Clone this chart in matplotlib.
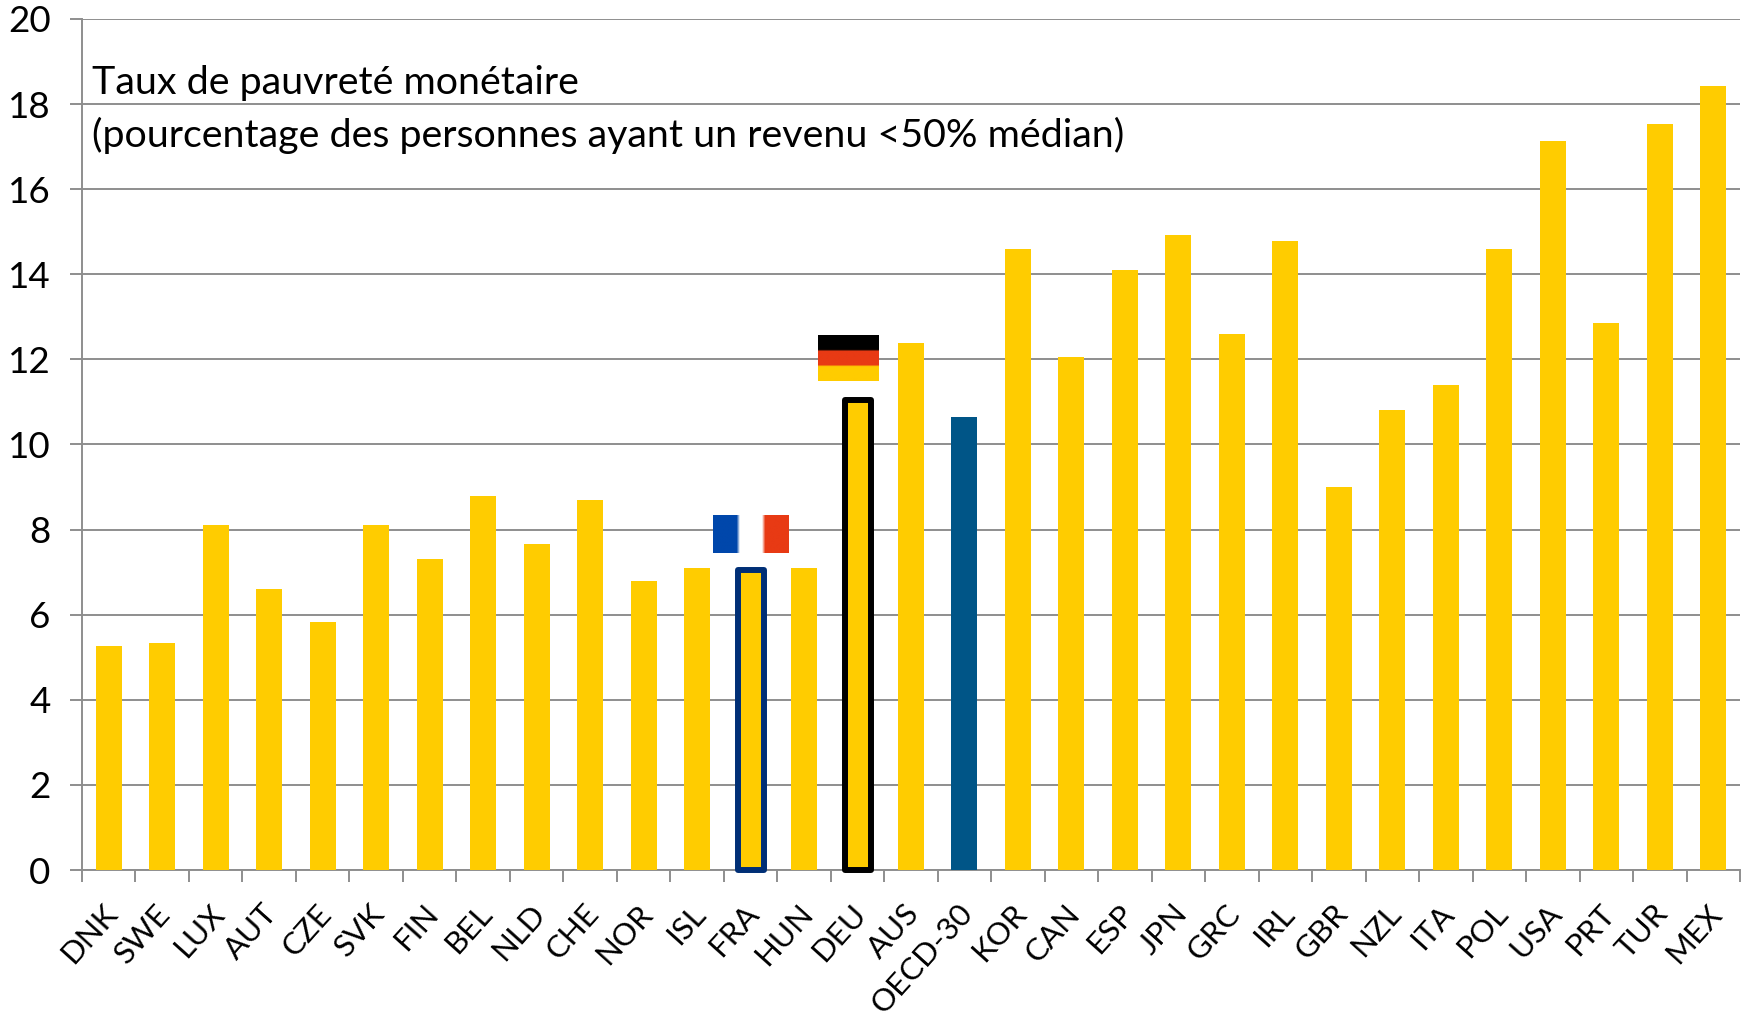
import matplotlib
matplotlib.use('Agg')
import matplotlib.pyplot as plt
import numpy as np

countries = ['DNK', 'SWE', 'LUX', 'AUT', 'CZE', 'SVK', 'FIN', 'BEL', 'NLD', 'CHE', 'NOR',
             'ISL', 'FRA', 'HUN', 'DEU', 'AUS', 'OECD-30', 'KOR', 'CAN', 'ESP', 'JPN',
             'GRC', 'IRL', 'GBR', 'NZL', 'ITA', 'POL', 'USA', 'PRT', 'TUR', 'MEX']
poverty = [5.27, 5.33, 8.1, 6.6, 5.83, 8.1, 7.3, 8.8, 7.65, 8.7, 6.8,
           7.1, 7.05, 7.1, 11.05, 12.38, 10.65, 14.6, 12.05, 14.1, 14.92,
           12.6, 14.78, 9.0, 10.8, 11.4, 14.6, 17.13, 12.85, 17.53, 18.42]
title_lines = ['Taux de pauvreté monétaire',
               '(pourcentage des personnes ayant un revenu <50% médian)']

YELLOW = '#FFCC00'
BLUE = '#005587'
GRID = '#8E8E8E'
W, H = 1748, 1023
FONT = 'Lato'

plt.rcParams['font.family'] = FONT

fig = plt.figure(figsize=(W / 100, H / 100), dpi=100)
ax = fig.add_axes([82 / W, (H - 870) / H, (1740 - 82) / W, (870 - 19) / H])

colors = [BLUE if c == 'OECD-30' else YELLOW for c in countries]
x = np.arange(len(countries))
bars = ax.bar(x, poverty, width=0.486, color=colors, zorder=3)

# contour des barres France et Allemagne
for name, edge in [('FRA', '#002F76'), ('DEU', '#000000')]:
    b = bars[countries.index(name)]
    b.set_edgecolor(edge)
    b.set_linewidth(4.3)
    b.set_joinstyle('round')
    b.set_clip_on(False)
    b.set_zorder(4)


def flag(rgb, xc, width, y0, y1, vertical):
    """Petit drapeau a bandes, legerement flou comme dans l'image d'origine."""
    arr = np.repeat(np.array(rgb) / 255, 8, axis=0)
    arr = arr[:, None, :] if vertical else arr[None, :, :]
    ax.imshow(arr, extent=[xc - width / 2, xc + width / 2, y0, y1], aspect='auto',
              interpolation='bilinear', zorder=5)


flag([(0, 71, 171), (255, 255, 255), (232, 58, 20)],
     countries.index('FRA'), 1.42, 7.45, 8.32, False)
flag([(0, 0, 0), (232, 58, 20), (255, 204, 0)],
     countries.index('DEU') - 0.17, 1.14, 11.49, 12.57, True)

ax.set_xlim(-0.5, len(countries) - 0.5)
ax.set_ylim(0, 20)

ax.set_yticks(np.arange(0, 21, 2))
ax.set_xticks(np.arange(len(countries) + 1) - 0.5)
ax.set_xticklabels([])
# etiquettes un peu a gauche du centre des barres
ax.set_xticks(x - 0.13, minor=True)
ax.set_xticklabels(countries, minor=True, rotation=48, ha='right', va='top',
                   rotation_mode='anchor', fontsize=22.5)

ax.yaxis.grid(True, color=GRID, linewidth=1.4, zorder=1)
ax.set_axisbelow(True)
ax.tick_params(axis='both', which='major', length=8.6, width=1.4, color=GRID)
ax.tick_params(axis='y', labelsize=26.5, pad=14)
ax.tick_params(axis='x', which='minor', length=0, pad=21)

for s in ['top', 'right']:
    ax.spines[s].set_visible(False)
for s in ['left', 'bottom']:
    ax.spines[s].set_color(GRID)
    ax.spines[s].set_linewidth(1.4)

fig.text(92 / W, 1 - 94 / H, title_lines[0], fontsize=28.4, color='black', va='baseline')
fig.text(92 / W, 1 - 147 / H, title_lines[1], fontsize=28.4, color='black', va='baseline')

fig.savefig('out.png', dpi=100, facecolor='white')
